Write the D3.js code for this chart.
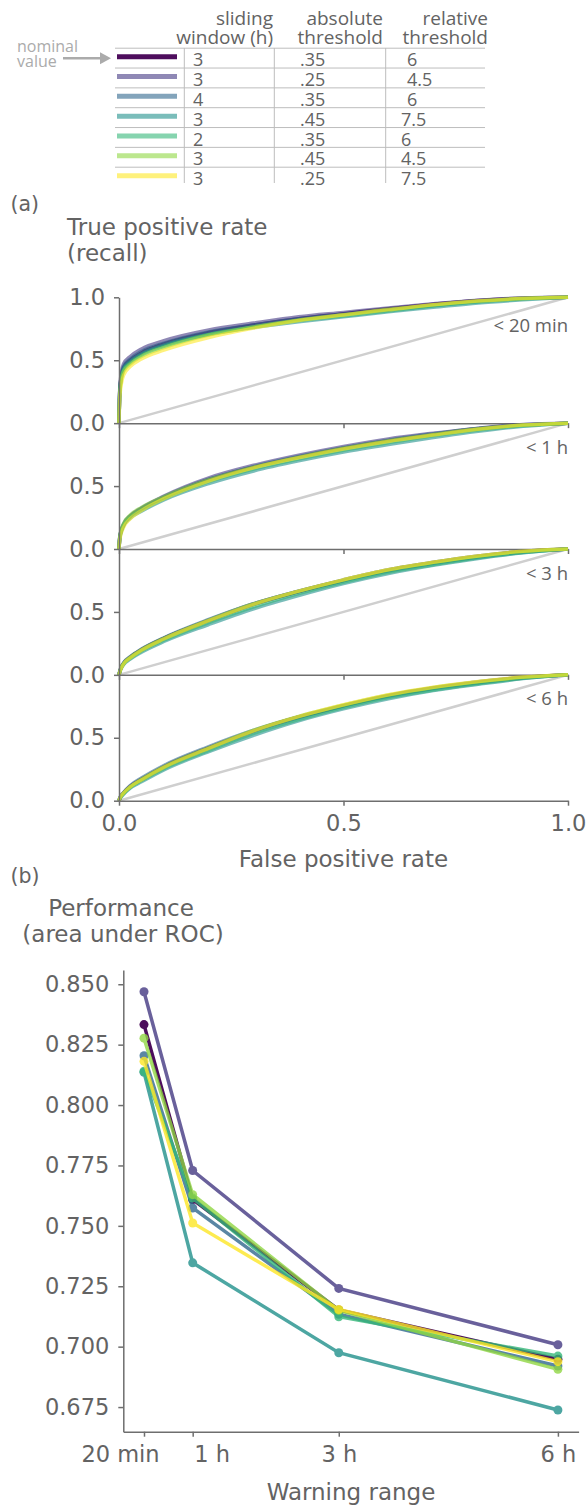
<!DOCTYPE html>
<html>
<head>
<meta charset="utf-8">
<script src="https://cdn.jsdelivr.net/npm/d3@7"></script>
<style>
body { margin: 0; background: #fff; }
</style>
</head>
<body>
<div id="chart"></div>
<script>
// parameter table / legend
var slidingWindow = ["3", "3", "4", "3", "2", "3", "3"];
var absThreshold = [".35", ".25", ".35", ".45", ".35", ".45", ".25"];
var relThreshold = ["6", "4.5", "6", "7.5", "6", "4.5", "7.5"];
var colors = ["#440154", "#443983", "#31688e", "#21918c", "#35b779", "#90d743", "#fde725"];

// (a) ROC curves, one block per warning range
var rocLabels = ["< 20 min", "< 1 h", "< 3 h", "< 6 h"];
var fpr = [0, 0.002, 0.01, 0.025, 0.05, 0.1, 0.2, 0.3, 0.4, 0.5, 0.6, 0.7, 0.8, 0.9, 1];
var tpr20min = [
  [0, .28, .44, .50, .56, .63, .72, .78, .83, .87, .91, .945, .975, .993, 1],
  [0, .30, .47, .53, .59, .655, .74, .795, .845, .88, .915, .948, .977, .995, 1],
  [0, .28, .45, .51, .57, .635, .725, .78, .83, .865, .90, .935, .967, .99, 1],
  [0, .27, .43, .49, .55, .62, .705, .76, .805, .845, .885, .92, .955, .98, 1],
  [0, .27, .42, .48, .54, .61, .705, .765, .815, .852, .892, .93, .962, .986, 1],
  [0, .25, .41, .47, .53, .60, .70, .765, .82, .862, .905, .94, .972, .992, 1],
  [0, .22, .38, .45, .51, .58, .68, .755, .815, .86, .90, .94, .97, .99, 1]
];
var tpr1h = [
  [0, .10, .19, .26, .32, .41, .55, .65, .73, .80, .86, .91, .955, .985, 1],
  [0, .10, .19, .26, .325, .42, .565, .665, .745, .815, .875, .92, .96, .99, 1],
  [0, .11, .20, .265, .325, .415, .555, .655, .735, .805, .865, .915, .957, .987, 1],
  [0, .09, .18, .245, .30, .39, .52, .62, .70, .77, .83, .885, .935, .975, 1],
  [0, .10, .19, .255, .31, .40, .535, .635, .715, .785, .845, .90, .945, .98, 1],
  [0, .11, .20, .27, .33, .415, .55, .65, .73, .80, .86, .91, .955, .985, 1],
  [0, .08, .17, .24, .305, .40, .54, .645, .725, .795, .855, .905, .952, .985, 1]
];
var tpr3h = [
  [0, .03, .09, .14, .20, .29, .43, .56, .66, .75, .83, .89, .94, .98, 1],
  [0, .03, .09, .14, .20, .29, .435, .565, .665, .755, .835, .895, .945, .982, 1],
  [0, .035, .095, .145, .205, .295, .44, .565, .665, .75, .825, .885, .935, .975, 1],
  [0, .025, .08, .125, .18, .265, .40, .525, .63, .725, .805, .87, .925, .97, 1],
  [0, .03, .085, .13, .19, .275, .415, .54, .645, .735, .815, .875, .93, .972, 1],
  [0, .03, .09, .14, .20, .29, .435, .565, .665, .755, .835, .895, .945, .982, 1],
  [0, .025, .085, .135, .195, .285, .43, .56, .665, .755, .835, .895, .945, .982, 1]
];
var tpr6h = [
  [0, .02, .06, .115, .17, .27, .42, .555, .665, .755, .835, .895, .94, .978, 1],
  [0, .02, .06, .11, .165, .265, .415, .55, .66, .755, .835, .895, .945, .98, 1],
  [0, .025, .065, .12, .18, .28, .43, .56, .665, .755, .83, .89, .935, .975, 1],
  [0, .015, .05, .10, .15, .245, .39, .52, .635, .73, .81, .875, .925, .97, 1],
  [0, .02, .055, .105, .16, .255, .40, .535, .645, .74, .82, .88, .93, .972, 1],
  [0, .02, .06, .11, .17, .27, .42, .56, .67, .76, .84, .90, .945, .98, 1],
  [0, .02, .06, .11, .165, .265, .415, .555, .668, .762, .842, .902, .948, .982, 1]
];
var rocTpr = [tpr20min, tpr1h, tpr3h, tpr6h];

// (b) area under ROC per warning range
var rangeHours = [1 / 3, 1, 3, 6];
var rangeLabels = ["20 min", "1 h", "3 h", "6 h"];
var auc = [
  [0.8333, 0.7609, 0.7152, 0.6948],
  [0.8469, 0.7729, 0.7241, 0.7008],
  [0.8204, 0.7574, 0.7134, 0.6920],
  [0.8136, 0.7347, 0.6975, 0.6738],
  [0.8140, 0.7615, 0.7124, 0.6961],
  [0.8277, 0.7629, 0.7150, 0.6906],
  [0.8181, 0.7512, 0.7154, 0.6938]
];
var aucTicks = [0.675, 0.700, 0.725, 0.750, 0.775, 0.800, 0.825, 0.850];

var textColor = "#636363", spineColor = "#6e6e6e";
var mplFont = "DejaVu Sans", tableFont = "Open Sans";

var svg = d3.select("#chart").append("svg")
  .attr("width", 587)
  .attr("height", 1508)
  .style("display", "block");

function styleAxis(g) {
  g.selectAll(".domain").attr("stroke", spineColor).attr("stroke-width", 1.5);
  g.selectAll(".tick line").attr("stroke", spineColor).attr("stroke-width", 1.5);
  g.selectAll(".tick text").attr("fill", textColor)
    .attr("font-family", mplFont).attr("font-size", "22.5px");
}

// ---------- table / legend ----------
var rowY = d3.scaleLinear().domain([0, 6]).range([56.7, 175.7]);
var rows = d3.range(slidingWindow.length);

var header = svg.append("g")
  .attr("font-family", tableFont)
  .attr("font-size", "19px")
  .attr("fill", textColor)
  .attr("text-anchor", "end");
[["sliding", "window (h)", 273], ["absolute", "threshold", 383], ["relative", "threshold", 488]]
  .forEach(function(h) {
    header.append("text").attr("x", h[2]).attr("y", 25).text(h[0]);
    header.append("text").attr("x", h[2]).attr("y", 44).text(h[1]);
  });

svg.selectAll(".sep")
  .data(rows)
  .enter().append("line")
    .attr("x1", 115).attr("x2", 485)
    .attr("y1", function(d) { return rowY(d) - 8.5; })
    .attr("y2", function(d) { return rowY(d) - 8.5; })
    .attr("stroke", "#bdbdbd").attr("stroke-width", 1);

[184.3, 274.3, 385.7].forEach(function(x) {
  svg.append("line")
    .attr("x1", x).attr("x2", x).attr("y1", 48).attr("y2", 183)
    .attr("stroke", "#bdbdbd").attr("stroke-width", 1);
});

svg.selectAll(".legline")
  .data(rows)
  .enter().append("line")
    .attr("x1", 117).attr("x2", 177)
    .attr("y1", function(d) { return rowY(d); })
    .attr("y2", function(d) { return rowY(d); })
    .attr("stroke", function(d) { return colors[d]; })
    .attr("stroke-opacity", function(d) { return d === 0 ? 0.95 : 0.6; })
    .attr("stroke-width", 5);

var cells = svg.append("g")
  .attr("font-family", tableFont)
  .attr("font-size", "18px")
  .attr("fill", textColor);
rows.forEach(function(i) {
  var y = rowY(i) + 9.5;
  cells.append("text").attr("x", 193).attr("y", y).text(slidingWindow[i]);
  cells.append("text").attr("x", 300).attr("y", y).text(absThreshold[i]);
  cells.append("text").attr("x", i < 3 ? 407 : 401).attr("y", y).text(relThreshold[i]);
});

// nominal value arrow
svg.append("text").attr("x", 17).attr("y", 51.5)
  .attr("font-family", tableFont).attr("font-size", "16px").attr("fill", "#ababab")
  .text("nominal");
svg.append("text").attr("x", 17).attr("y", 66.5)
  .attr("font-family", tableFont).attr("font-size", "16px").attr("fill", "#ababab")
  .text("value");
svg.append("line")
  .attr("x1", 63).attr("x2", 102).attr("y1", 58.3).attr("y2", 58.3)
  .attr("stroke", "#ababab").attr("stroke-width", 2.5);
svg.append("path")
  .attr("d", "M100,52.3 L111,58.3 L100,64.3 Z")
  .attr("fill", "#ababab");

// ---------- (a) ROC curves ----------
svg.append("text").attr("x", 10.5).attr("y", 211)
  .attr("font-family", mplFont).attr("font-size", "20.5px").attr("fill", textColor)
  .text("(a)");
svg.append("text").attr("x", 67).attr("y", 235)
  .attr("font-family", mplFont).attr("font-size", "23px").attr("fill", textColor)
  .text("True positive rate");
svg.append("text").attr("x", 67).attr("y", 261)
  .attr("font-family", mplFont).attr("font-size", "23px").attr("fill", textColor)
  .text("(recall)");

var rocX = d3.scaleLinear().domain([0, 1]).range([119, 568]);
var rocTop = 297.3, rocH = 125.85;

rocLabels.forEach(function(label, p) {
  var top = rocTop + p * rocH;
  var y = d3.scaleLinear().domain([0, 1]).range([top + rocH, top]);
  var g = svg.append("g");

  // chance line
  g.append("line")
    .attr("x1", rocX(0)).attr("y1", y(0))
    .attr("x2", rocX(1)).attr("y2", y(1))
    .attr("stroke", "#cfcfcf").attr("stroke-width", 2.5);

  var line = d3.line()
    .x(function(d, i) { return rocX(fpr[i]); })
    .y(function(d) { return y(d); })
    .curve(d3.curveMonotoneX);

  g.selectAll(".roc")
    .data(rocTpr[p])
    .enter().append("path")
      .attr("d", line)
      .attr("fill", "none")
      .attr("stroke", function(d, i) { return colors[i]; })
      .attr("stroke-opacity", function(d, i) { return i === 0 ? 0.85 : 0.6; })
      .attr("stroke-width", 3.5)
      .attr("stroke-linejoin", "round");

  var yAxis = g.append("g")
    .attr("transform", "translate(" + rocX(0) + ",0)")
    .call(d3.axisLeft(y)
      .tickValues(p === 0 ? [0, 0.5, 1] : [0, 0.5])
      .tickFormat(d3.format(".1f"))
      .tickSize(5).tickSizeOuter(0).tickPadding(9));
  styleAxis(yAxis);

  var xAxis = g.append("g")
    .attr("transform", "translate(0," + y(0) + ")")
    .call(d3.axisBottom(rocX)
      .tickValues([0, 0.5, 1])
      .tickFormat(p === rocLabels.length - 1 ? d3.format(".1f") : function() { return ""; })
      .tickSize(5).tickSizeOuter(0).tickPadding(9));
  styleAxis(xAxis);

  g.append("text")
    .attr("x", 568).attr("y", top + (p === 0 ? 34.5 : 30.5))
    .attr("text-anchor", "end")
    .attr("font-family", tableFont).attr("font-size", "18.5px")
    .attr("fill", textColor)
    .text(label);
});

svg.append("text").attr("x", 343.5).attr("y", 866.7)
  .attr("text-anchor", "middle")
  .attr("font-family", mplFont).attr("font-size", "23px").attr("fill", textColor)
  .text("False positive rate");

// ---------- (b) performance ----------
svg.append("text").attr("x", 10.5).attr("y", 883)
  .attr("font-family", mplFont).attr("font-size", "20.5px").attr("fill", textColor)
  .text("(b)");
svg.append("text").attr("x", 121).attr("y", 915.7)
  .attr("text-anchor", "middle")
  .attr("font-family", mplFont).attr("font-size", "23px").attr("fill", textColor)
  .text("Performance");
svg.append("text").attr("x", 123).attr("y", 941.7)
  .attr("text-anchor", "middle")
  .attr("font-family", mplFont).attr("font-size", "23px").attr("fill", textColor)
  .text("(area under ROC)");

var px = d3.scaleLinear().domain([0.05, 6.2833]).range([123.3, 578.6]);
var py = d3.scaleLinear().domain([0.6648, 0.8559]).range([1431.7, 970]);

var pyAxis = svg.append("g")
  .attr("transform", "translate(" + px.range()[0] + ",0)")
  .call(d3.axisLeft(py).tickValues(aucTicks).tickFormat(d3.format(".3f"))
    .tickSize(5).tickSizeOuter(0).tickPadding(9));
styleAxis(pyAxis);

var pxAxis = svg.append("g")
  .attr("transform", "translate(0," + py.range()[0] + ")")
  .call(d3.axisBottom(px).tickValues(rangeHours)
    .tickFormat(function(d, i) { return rangeLabels[i]; })
    .tickSize(5).tickSizeOuter(0).tickPadding(9));
styleAxis(pxAxis);
pxAxis.selectAll(".tick text")
  .attr("dx", function(d, i) { return i === 0 ? -24 : (i === 1 ? 19 : 0); });

var perfLine = d3.line()
  .x(function(d, i) { return px(rangeHours[i]); })
  .y(function(d) { return py(d); });

var series = svg.selectAll(".perf")
  .data(auc)
  .enter().append("g")
    .attr("opacity", function(d, i) { return i === 0 ? 0.95 : 0.8; });

series.append("path")
  .attr("d", perfLine)
  .attr("fill", "none")
  .attr("stroke", function(d, i) { return colors[i]; })
  .attr("stroke-width", 3.5);

series.selectAll("circle")
  .data(function(d, i) { return d.map(function(v) { return {v: v, s: i}; }); })
  .enter().append("circle")
    .attr("cx", function(d, i) { return px(rangeHours[i]); })
    .attr("cy", function(d) { return py(d.v); })
    .attr("r", 4.5)
    .attr("fill", function(d) { return colors[d.s]; });

svg.append("text").attr("x", 351).attr("y", 1500)
  .attr("text-anchor", "middle")
  .attr("font-family", mplFont).attr("font-size", "23px").attr("fill", textColor)
  .text("Warning range");
</script>
</body>
</html>
